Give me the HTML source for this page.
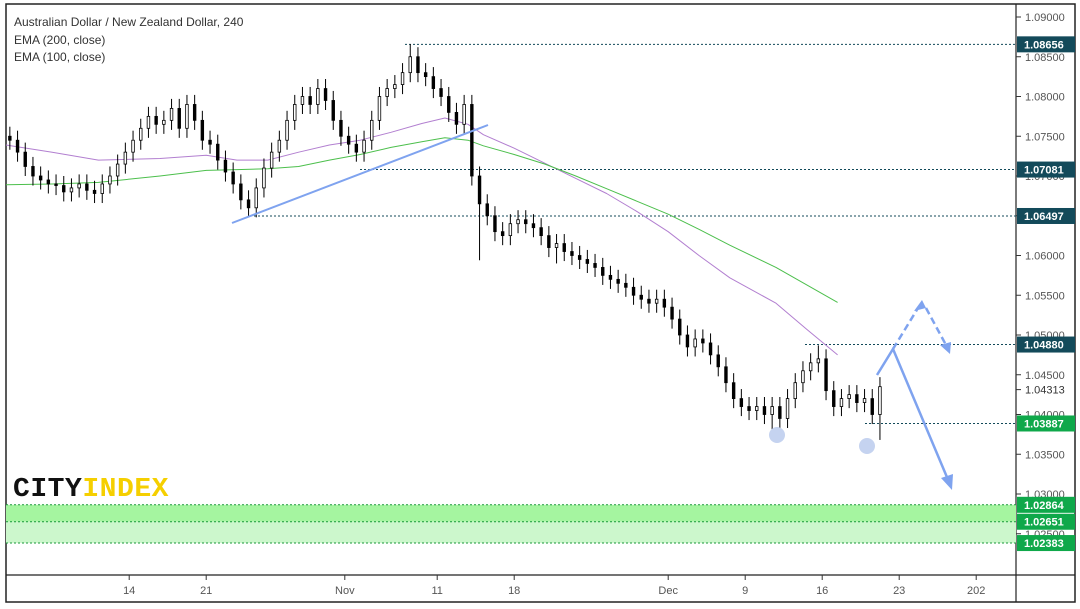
<!DOCTYPE html>
<html><head><meta charset="utf-8"><style>
body{margin:0;background:#fff;font-family:"Liberation Sans",sans-serif}
svg{display:block}
</style></head><body>
<svg id="c" width="1080" height="609">
<rect x="6" y="4" width="1069" height="598" fill="#fff" stroke="#222" stroke-width="1.5"/>
<line x1="1016" y1="4" x2="1016" y2="602" stroke="#222" stroke-width="1.2"/>
<line x1="6" y1="575" x2="1075" y2="575" stroke="#222" stroke-width="1.2"/>
<g id="bands"></g><g id="hl"></g><g id="ema"></g><g id="cand"></g><g id="draw"></g><g id="yax"></g><g id="xax"></g>
<text x="14" y="26" font-size="12" fill="#333">Australian Dollar / New Zealand Dollar, 240</text>
<text x="14" y="44" font-size="12" fill="#333">EMA (200, close)</text>
<text x="14" y="61" font-size="12" fill="#333">EMA (100, close)</text>
<text x="13" y="496" font-size="27" font-family="Liberation Mono,monospace" font-weight="bold" letter-spacing="0.5" textLength="156" lengthAdjust="spacingAndGlyphs"><tspan fill="#111">CITY</tspan><tspan fill="#f5cf00">INDEX</tspan></text>
</svg>
<script>
const closes=[1.0745,1.0730,1.0712,1.0700,1.0695,1.0690,1.0688,1.0680,1.0685,1.0690,1.0682,1.0678,1.0690,1.0700,1.0715,1.0730,
1.0745,1.0760,1.0775,1.0765,1.0770,1.0785,1.0760,1.0790,1.0770,1.0745,
1.0740,1.0720,1.0705,1.0690,1.0670,1.0660,1.0685,1.0710,1.0730,1.0745,
1.0770,1.0790,1.0800,1.0790,1.0810,1.0795,1.0770,1.0750,
1.0740,1.0730,
1.0745,1.0770,1.0800,1.0810,1.0815,1.0830,1.0850,1.0830,1.0825,1.0810,
1.0800,1.0780,1.0765,1.0790,1.0700,1.0665,1.0650,1.0630,1.0625,1.0640,
1.0645,1.0640,1.0635,1.0625,1.0610,1.0615,1.0605,1.0600,1.0595,1.0590,
1.0585,1.0575,1.0570,1.0565,1.0560,1.0550,1.0545,1.0540,1.0545,1.0535,
1.0520,1.0500,1.0485,1.0495,1.0490,1.0475,1.0460,1.0440,1.0420,1.0410,
1.0405,1.0410,1.0400,1.0410,1.0395,1.0420,1.0440,1.0455,1.0465,1.0470,
1.0430,1.0410,1.0420,1.0425,1.0415,1.0420,1.0400,1.0435];
const extremeBar=[52,99,113,105,61,71];
const extremeVal=[1.0866,1.0374,1.0368,1.0487,1.0594,1.0590];
const emaDays=[0,3,6,10,13,15,17,19,21,23,25,27,28.5,30,31,33,35,37,39,41,43,45,47,50,52,54];
const ema100=[1.0739,1.0730,1.0720,1.0722,1.0726,1.0720,1.0720,1.0730,1.0739,1.0745,1.0755,1.0766,1.0773,1.0765,1.0752,1.0735,1.0716,1.0697,1.0678,1.0655,1.0630,1.0600,1.0572,1.0540,1.0507,1.0475];
const ema200=[1.0689,1.0690,1.0692,1.0700,1.0707,1.0708,1.0709,1.0712,1.0720,1.0727,1.0736,1.0743,1.0748,1.0745,1.0738,1.0727,1.0715,1.0700,1.0684,1.0668,1.0652,1.0633,1.0613,1.0585,1.0563,1.0541];
const yTicks=[1.09,1.085,1.08,1.075,1.07,1.065,1.06,1.055,1.05,1.045,1.04,1.035,1.03,1.025];
const levels=[1.08656,1.07081,1.06497,1.04880,1.03887,1.02864,1.02651,1.02383];
const levelStart=[405,360,250,805,865,6,6,6];
const levelColor=['#134a5a','#134a5a','#134a5a','#134a5a','#0fa84a','#0fa84a','#0fa84a','#0fa84a'];
const xLabels=['14','21','Nov','11','18','Dec','9','16','23','202'];
const xLabelDays=[8,13,22,28,33,43,48,53,58,63];
const NS='http://www.w3.org/2000/svg';
const y=p=>17+(1.09-p)*7950;
const xd=d=>6+d*15.4;
function mk(t,a,g){const e=document.createElementNS(NS,t);for(const k in a)e.setAttribute(k,a[k]);document.getElementById(g).appendChild(e);return e;}
let b1=mk('rect',{x:6,y:y(1.02864),width:1010,height:y(1.02651)-y(1.02864),fill:'#a5f5a0'},'bands');


let b2=mk('rect',{x:6,y:y(1.02651),width:1010,height:y(1.02383)-y(1.02651),fill:'#ccf7cc'},'bands');


levels.forEach((v,i)=>{
 const l=mk('line',{x1:levelStart[i],x2:1016,y1:y(v),y2:y(v),stroke:i>=5?'#1a9a3a':'#134a5a','stroke-dasharray':'2,2','stroke-width':1},'hl');
 
 
});
yTicks.forEach(v=>{
 mk('line',{x1:1016,x2:1021,y1:y(v),y2:y(v),stroke:'#333'},'yax');
 const t=mk('text',{x:1025,y:y(v)+4,'font-size':11,fill:'#555'},'yax');t.textContent=v.toFixed(5);
 
 
});
mk('line',{x1:1016,x2:1021,y1:y(1.04313),y2:y(1.04313),stroke:'#333'},'yax');
let cur=mk('text',{x:1025,y:y(1.04313)+4,'font-size':11,fill:'#333'},'yax');cur.textContent='1.04313';


levels.forEach((v,i)=>{
 const r=mk('rect',{x:1017,y:y(v)-8,width:58,height:16,fill:levelColor[i]},'yax');
 
 
 const t=mk('text',{x:1024,y:y(v)+4,'font-size':11,'font-weight':'bold',fill:'#fff'},'yax');t.textContent=v.toFixed(5);
 
 
});
xLabels.forEach((s,i)=>{
 const x=xd(xLabelDays[i]);
 mk('line',{x1:x,x2:x,y1:575,y2:580,stroke:'#333'},'xax');
 const t=mk('text',{x:x,y:594,'font-size':11,fill:'#555','text-anchor':'middle'},'xax');t.textContent=s;
 
 
});
function emaPath(arr,col,name){
 const d=arr.map((v,i)=>(i?'L':'M')+xd(emaDays[i]).toFixed(1)+','+y(v).toFixed(1)).join('');
 const p=mk('path',{d:d,fill:'none',stroke:col,'stroke-width':1,'stroke-linejoin':'round'},'ema');
 
 
}
emaPath(ema100,'#b27fd0','ema100-line');emaPath(ema200,'#4cbf4c','ema200-line');
const w=0.0012;
closes.forEach((c,i)=>{
 const o=i?closes[i-1]:c+0.0005;
 let hi=Math.max(o,c)+w,lo=Math.min(o,c)-w;
 const k=extremeBar.indexOf(i);
 if(k>=0){if(extremeVal[k]>c)hi=extremeVal[k];else lo=extremeVal[k];}
 const x=xd(i/2+0.25);
 const g=mk('line',{x1:x,x2:x,y1:y(hi),y2:y(lo),stroke:'#000','stroke-width':1},'cand');
 
 
 const r=mk('rect',{x:x-1.3,y:y(Math.max(o,c)),width:2.6,height:Math.max(1,Math.abs(y(o)-y(c))),fill:c>=o?'#fff':'#000',stroke:'#000','stroke-width':0.8},'cand');
 
 
});
const D=document.getElementById('draw');
D.innerHTML=`<line x1="232" y1="223" x2="488" y2="125" stroke="#7fa3ef" stroke-width="2"/>
<circle cx="777" cy="435" r="8" fill="#c5d3f0"/>
<circle cx="867" cy="446" r="8" fill="#c5d3f0"/>
<polyline points="877,375 893,349 949,482" fill="none" stroke="#7fa3ef" stroke-width="2.5"/>
<polygon points="952,490 941,478 953,474" fill="#7fa3ef"/>
<polyline points="893,349 918,308" fill="none" stroke="#7fa3ef" stroke-width="2.5" stroke-dasharray="7,4"/>
<polygon points="922,300 914,311 926,308" fill="#7fa3ef"/>
<polyline points="926,308 946,345" fill="none" stroke="#7fa3ef" stroke-width="2.5" stroke-dasharray="7,4"/>
<polygon points="950,354 940,345 951,342" fill="#7fa3ef"/>`;
</script>
</body></html>
